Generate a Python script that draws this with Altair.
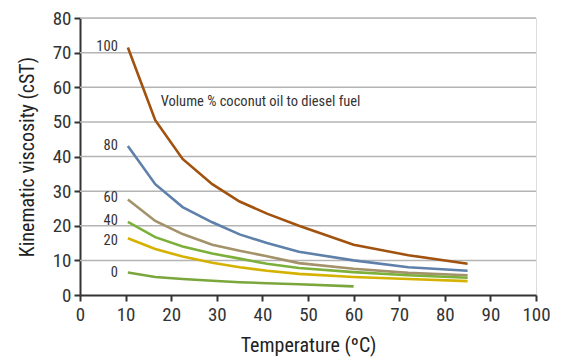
import altair as alt
import pandas as pd

temps = [10.5, 16.5, 22.5, 29, 35, 41, 48, 60, 72, 85]
temps0 = [10.5, 16.5, 22.5, 29, 35, 41, 48, 60]
v100 = [71.5, 50.5, 39.3, 32, 27, 23.5, 20, 14.5, 11.5, 9]
v80 = [43, 32, 25.4, 21, 17.5, 15, 12.5, 10, 8, 7]
v60 = [27.6, 21.4, 17.6, 14.5, 12.8, 11.2, 9.2, 7.6, 6.4, 5.7]
v40 = [21.1, 16.7, 14, 12, 10.5, 9.0, 7.8, 6.6, 5.7, 5.0]
v20 = [16.4, 13.3, 11.1, 9.3, 8, 7.0, 6.1, 5.2, 4.6, 4.0]
v0 = [6.5, 5.2, 4.6, 4.1, 3.7, 3.4, 3.1, 2.5]

series = ["100", "80", "60", "40", "20", "0"]
colors = ["#A0520E", "#5E80AA", "#A3926A", "#7CB03A", "#D6B200", "#7AA63C"]
label_y = [71.7, 43.1, 28, 21.4, 15.7, 6.3]
label_x = 8.3
note = "Volume % coconut oil to diesel fuel"
note_x, note_y = 17.7, 55.7

rows = []
for name, xs, vs in [("100", temps, v100), ("80", temps, v80), ("60", temps, v60),
                     ("40", temps, v40), ("20", temps, v20), ("0", temps0, v0)]:
    for t, v in zip(xs, vs):
        rows.append({"series": name, "t": t, "v": v})
df = pd.DataFrame(rows)
lab = pd.DataFrame({"series": series, "t": [label_x] * 6, "v": label_y})
ann = pd.DataFrame({"t": [note_x], "v": [note_y], "txt": [note]})

FONT = "Roboto Condensed, DejaVu Sans Condensed, Roboto, sans-serif"

W, H = 456, 277
xscale = alt.Scale(domain=[0, 100], nice=False)
yscale = alt.Scale(domain=[0, 80], nice=False)

xaxis = alt.Axis(values=list(range(0, 101, 10)), grid=False, title="Temperature (ºC)",
                 labelFontSize=19, titleFontSize=20, labelFont=FONT, titleFont=FONT,
                 labelColor="#333", titleColor="#222", titleFontWeight="normal",
                 labelOverlap=False, labelFlush=False,
                 domainColor="#333", domainWidth=2, tickColor="#333", tickWidth=2, tickSize=6,
                 labelPadding=4, titlePadding=11)
yaxis = alt.Axis(values=list(range(0, 81, 10)), grid=False, title="Kinematic viscosity (cST)",
                 labelFontSize=19, titleFontSize=20, labelFont=FONT, titleFont=FONT,
                 labelColor="#333", titleColor="#222", titleFontWeight="normal",
                 labelOverlap=False, labelFlush=False,
                 domainColor="#333", domainWidth=2, tickColor="#333", tickWidth=2, tickSize=6,
                 labelPadding=3, titlePadding=15)

grid_df = pd.DataFrame({"v": list(range(10, 81, 10))})
grid = alt.Chart(grid_df).mark_rule(color="#b4b4b4", strokeWidth=1.5).encode(
    y=alt.Y("v:Q", scale=yscale, axis=yaxis), x=alt.value(0), x2=alt.value(W))

lines = alt.Chart(df).mark_line(strokeWidth=2.6).encode(
    x=alt.X("t:Q", scale=xscale, axis=xaxis),
    y=alt.Y("v:Q", scale=yscale, axis=yaxis),
    color=alt.Color("series:N", scale=alt.Scale(domain=series, range=colors), legend=None),
    detail="series:N")

labels = alt.Chart(lab).mark_text(align="right", baseline="middle", fontSize=14.5, font=FONT,
                                  color="#333").encode(
    x=alt.X("t:Q", scale=xscale, axis=xaxis), y=alt.Y("v:Q", scale=yscale, axis=yaxis),
    text="series:N")

annot = alt.Chart(ann).mark_text(align="left", baseline="middle", fontSize=14.5, font=FONT,
                                 color="#333").encode(
    x=alt.X("t:Q", scale=xscale, axis=xaxis), y=alt.Y("v:Q", scale=yscale, axis=yaxis),
    text="txt:N")

chart = alt.layer(grid, lines, labels, annot).properties(
    width=W, height=H, autosize=alt.AutoSizeParams(type="none"),
    padding={"left": 72, "top": 10, "right": 17, "bottom": 62}
).configure_view(strokeWidth=0, stroke="transparent").configure(background="white")

chart.save("out.html", embed_options={"renderer": "svg", "actions": False})
